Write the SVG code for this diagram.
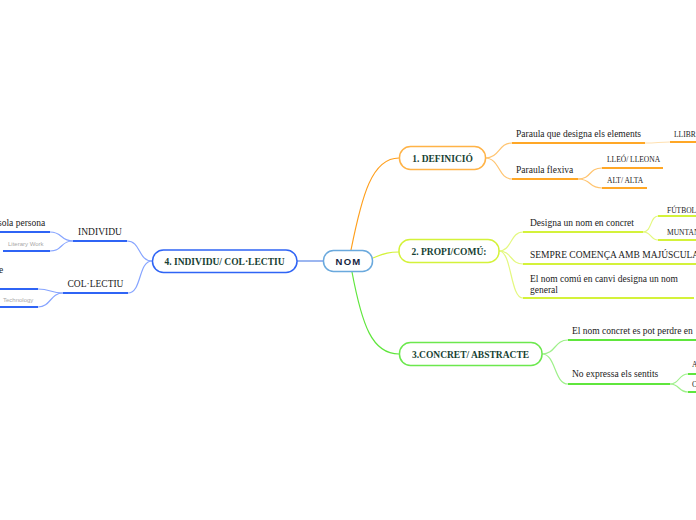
<svg xmlns="http://www.w3.org/2000/svg" width="696" height="520" viewBox="0 0 696 520">
<style>
.t{font-family:"Liberation Serif","Times New Roman",serif;font-size:9.5px;fill:#1a1a1a}
.s{font-family:"Liberation Serif","Times New Roman",serif;font-size:7.5px;fill:#1a1a1a}
.g{font-family:"Liberation Sans",Arial,sans-serif;font-size:6px;fill:#a8a8a8}
.nt{font-family:"Liberation Serif","Times New Roman",serif;font-size:9.5px;font-weight:bold;fill:#173f33;text-anchor:middle}
.box{fill:#fff;stroke-width:1.5}
.c{fill:none;stroke-width:1.2}
.u{fill:none;stroke-width:2}
</style>
<rect width="696" height="520" fill="#fff"/>
<g id="connectors">
  <!-- main -->
  <path class="c" d="M351,250 C362,195 372,158 399,158" stroke="#ff9f1c" stroke-width="1.6"/>
  <path class="c" d="M373,258 C385,253 390,252 399,252" stroke="#d4f23a" stroke-width="1.6"/>
  <path class="c" d="M352,272 C362,325 372,354 399,354" stroke="#5fe63c" stroke-width="1.6"/>
  <path class="c" d="M323,261 L297,261" stroke="#5a85e6" stroke-width="1.6"/>
  <!-- branch 1 -->
  <path class="c" d="M485,158 C500,158 498,143 512,143" stroke="#ffc470"/>
  <path class="c" d="M485,158 C500,158 498,179 512,179" stroke="#ffc470"/>
  <path class="u" d="M512,143 L645,143" stroke="#ffa726"/>
  <path class="c" d="M645,143 C658,143 658,142 670,142" stroke="#ffe0b0"/>
  <path class="u" d="M670,142 L696,142" stroke="#ffa726"/>
  <path class="u" d="M512,179 L578,179" stroke="#ffa726"/>
  <path class="c" d="M578,179 C592,179 588,168 602,168" stroke="#ffc470"/>
  <path class="c" d="M578,179 C592,179 588,188 602,188" stroke="#ffc470"/>
  <path class="u" d="M602,168 L663,168" stroke="#ffa726"/>
  <path class="u" d="M602,188 L647,188" stroke="#ffa726"/>
  <!-- branch 2 -->
  <path class="c" d="M499,251 C512,251 510,232 523,232" stroke="#e4f880"/>
  <path class="c" d="M499,251 C512,251 510,264 523,264" stroke="#e4f880"/>
  <path class="c" d="M499,251 C512,251 510,298 523,298" stroke="#e4f880"/>
  <path class="u" d="M523,232 L643,232" stroke="#d4f23a"/>
  <path class="u" d="M523,264 L696,264" stroke="#d4f23a"/>
  <path class="u" d="M523,298 L694,298" stroke="#d4f23a"/>
  <path class="c" d="M643,232 C652,232 650,216 658,216" stroke="#e4f880"/>
  <path class="c" d="M643,232 C652,232 650,240 658,240" stroke="#e4f880"/>
  <path class="u" d="M658,216 L696,216" stroke="#d4f23a"/>
  <path class="u" d="M658,240 L696,240" stroke="#d4f23a"/>
  <!-- branch 3 -->
  <path class="c" d="M542,354 C556,354 554,340 568,340" stroke="#9ef08a"/>
  <path class="c" d="M542,354 C556,354 554,384 568,384" stroke="#9ef08a"/>
  <path class="u" d="M568,340 L696,340" stroke="#5fe63c"/>
  <path class="u" d="M568,384 L670,384" stroke="#5fe63c"/>
  <path class="c" d="M670,384 C680,384 678,374 688,374" stroke="#9ef08a"/>
  <path class="c" d="M670,384 C680,384 678,392 688,392" stroke="#9ef08a"/>
  <path class="u" d="M688,374 L696,374" stroke="#5fe63c"/>
  <path class="u" d="M688,392 L696,392" stroke="#5fe63c"/>
  <!-- branch 4 -->
  <path class="c" d="M152,261 C138,261 141,241 127,241" stroke="#86a4ff"/>
  <path class="c" d="M152,261 C138,261 142,293 128,293" stroke="#86a4ff"/>
  <path class="u" d="M73,241 L127,241" stroke="#2f64f5"/>
  <path class="u" d="M63,293 L128,293" stroke="#2f64f5"/>
  <path class="c" d="M73,241 C60,241 63,232 50,232" stroke="#86a4ff"/>
  <path class="c" d="M73,241 C60,241 63,251 50,251" stroke="#86a4ff"/>
  <path class="u" d="M0,232 L50,232" stroke="#2f64f5"/>
  <path class="u" d="M3,251 L50,251" stroke="#2f64f5"/>
  <path class="c" d="M63,293 C50,293 51,289 38,289" stroke="#86a4ff"/>
  <path class="c" d="M63,293 C50,293 51,307 38,307" stroke="#86a4ff"/>
  <path class="u" d="M0,289 L38,289" stroke="#2f64f5"/>
  <path class="u" d="M0,307 L38,307" stroke="#2f64f5"/>
</g>
<g id="nom">
  <rect class="box" x="323.5" y="250.5" width="49" height="21" rx="10" stroke="#6aa9dd"/>
  <text x="348.5" y="264.5" text-anchor="middle" font-family="'Liberation Sans',Arial,sans-serif" font-size="9.5" font-weight="bold" letter-spacing="1.2" fill="#15243f">NOM</text>
</g>
<g id="n1">
  <rect class="box" x="399.5" y="146.5" width="86" height="23" rx="11" stroke="#ffb347"/>
  <text class="nt" x="442.5" y="161.5">1. DEFINICIÓ</text>
</g>
<g id="n2">
  <rect class="box" x="399" y="239.5" width="100" height="23" rx="11" stroke="#d4f23a"/>
  <text class="nt" x="449" y="254.5">2. PROPI/COMÚ:</text>
</g>
<g id="n3">
  <rect class="box" x="399.5" y="342.5" width="142.5" height="23" rx="11" stroke="#6ce84e"/>
  <text class="nt" x="470.5" y="357.5">3.CONCRET/ ABSTRACTE</text>
</g>
<g id="n4">
  <rect class="box" x="152.5" y="250" width="144.5" height="22.5" rx="11" stroke="#2f64f5"/>
  <text class="nt" x="224.5" y="264.5">4. INDIVIDU/ COL·LECTIU</text>
</g>
<g id="c1a"><text class="t" x="516" y="137">Paraula que designa els elements</text></g>
<g id="c1a1"><text class="s" x="674" y="137">LLIBR</text></g>
<g id="c1b"><text class="t" x="516" y="173">Paraula flexiva</text></g>
<g id="c1b1"><text class="s" x="607" y="162">LLEÓ/ LLEONA</text></g>
<g id="c1b2"><text class="s" x="607" y="183">ALT/ ALTA</text></g>
<g id="c2a"><text class="t" x="530" y="226">Designa un nom en concret</text></g>
<g id="c2a1"><text class="s" x="667" y="213">FÚTBOL</text></g>
<g id="c2a2"><text class="s" x="667" y="235">MUNTAN</text></g>
<g id="c2b"><text class="t" x="530" y="258">SEMPRE COMENÇA AMB MAJÚSCULA</text></g>
<g id="c2c"><text class="t" x="530" y="282">El nom comú en canvi designa un nom</text><text class="t" x="530" y="292.5">general</text></g>
<g id="c3a"><text class="t" x="572" y="333.5">El nom concret es pot perdre en</text></g>
<g id="c3b"><text class="t" x="572" y="377">No expressa els sentits</text></g>
<g id="c3b1"><text class="s" x="692" y="367">A</text></g>
<g id="c3b2"><text class="s" x="692" y="386.5">C</text></g>
<g id="c4a"><text class="t" x="100" y="235" text-anchor="middle">INDIVIDU</text></g>
<g id="c4a1"><text class="t" x="-2" y="226">sola persona</text></g>
<g id="c4a2"><text class="g" x="8" y="246">Literary Work</text></g>
<g id="c4b"><text class="t" x="95.5" y="287" text-anchor="middle">COL·LECTIU</text></g>
<g id="c4b1"><text class="t" x="-1" y="272.5">e</text></g>
<g id="c4b2"><text class="g" x="3" y="302">Technology</text></g>
</svg>
